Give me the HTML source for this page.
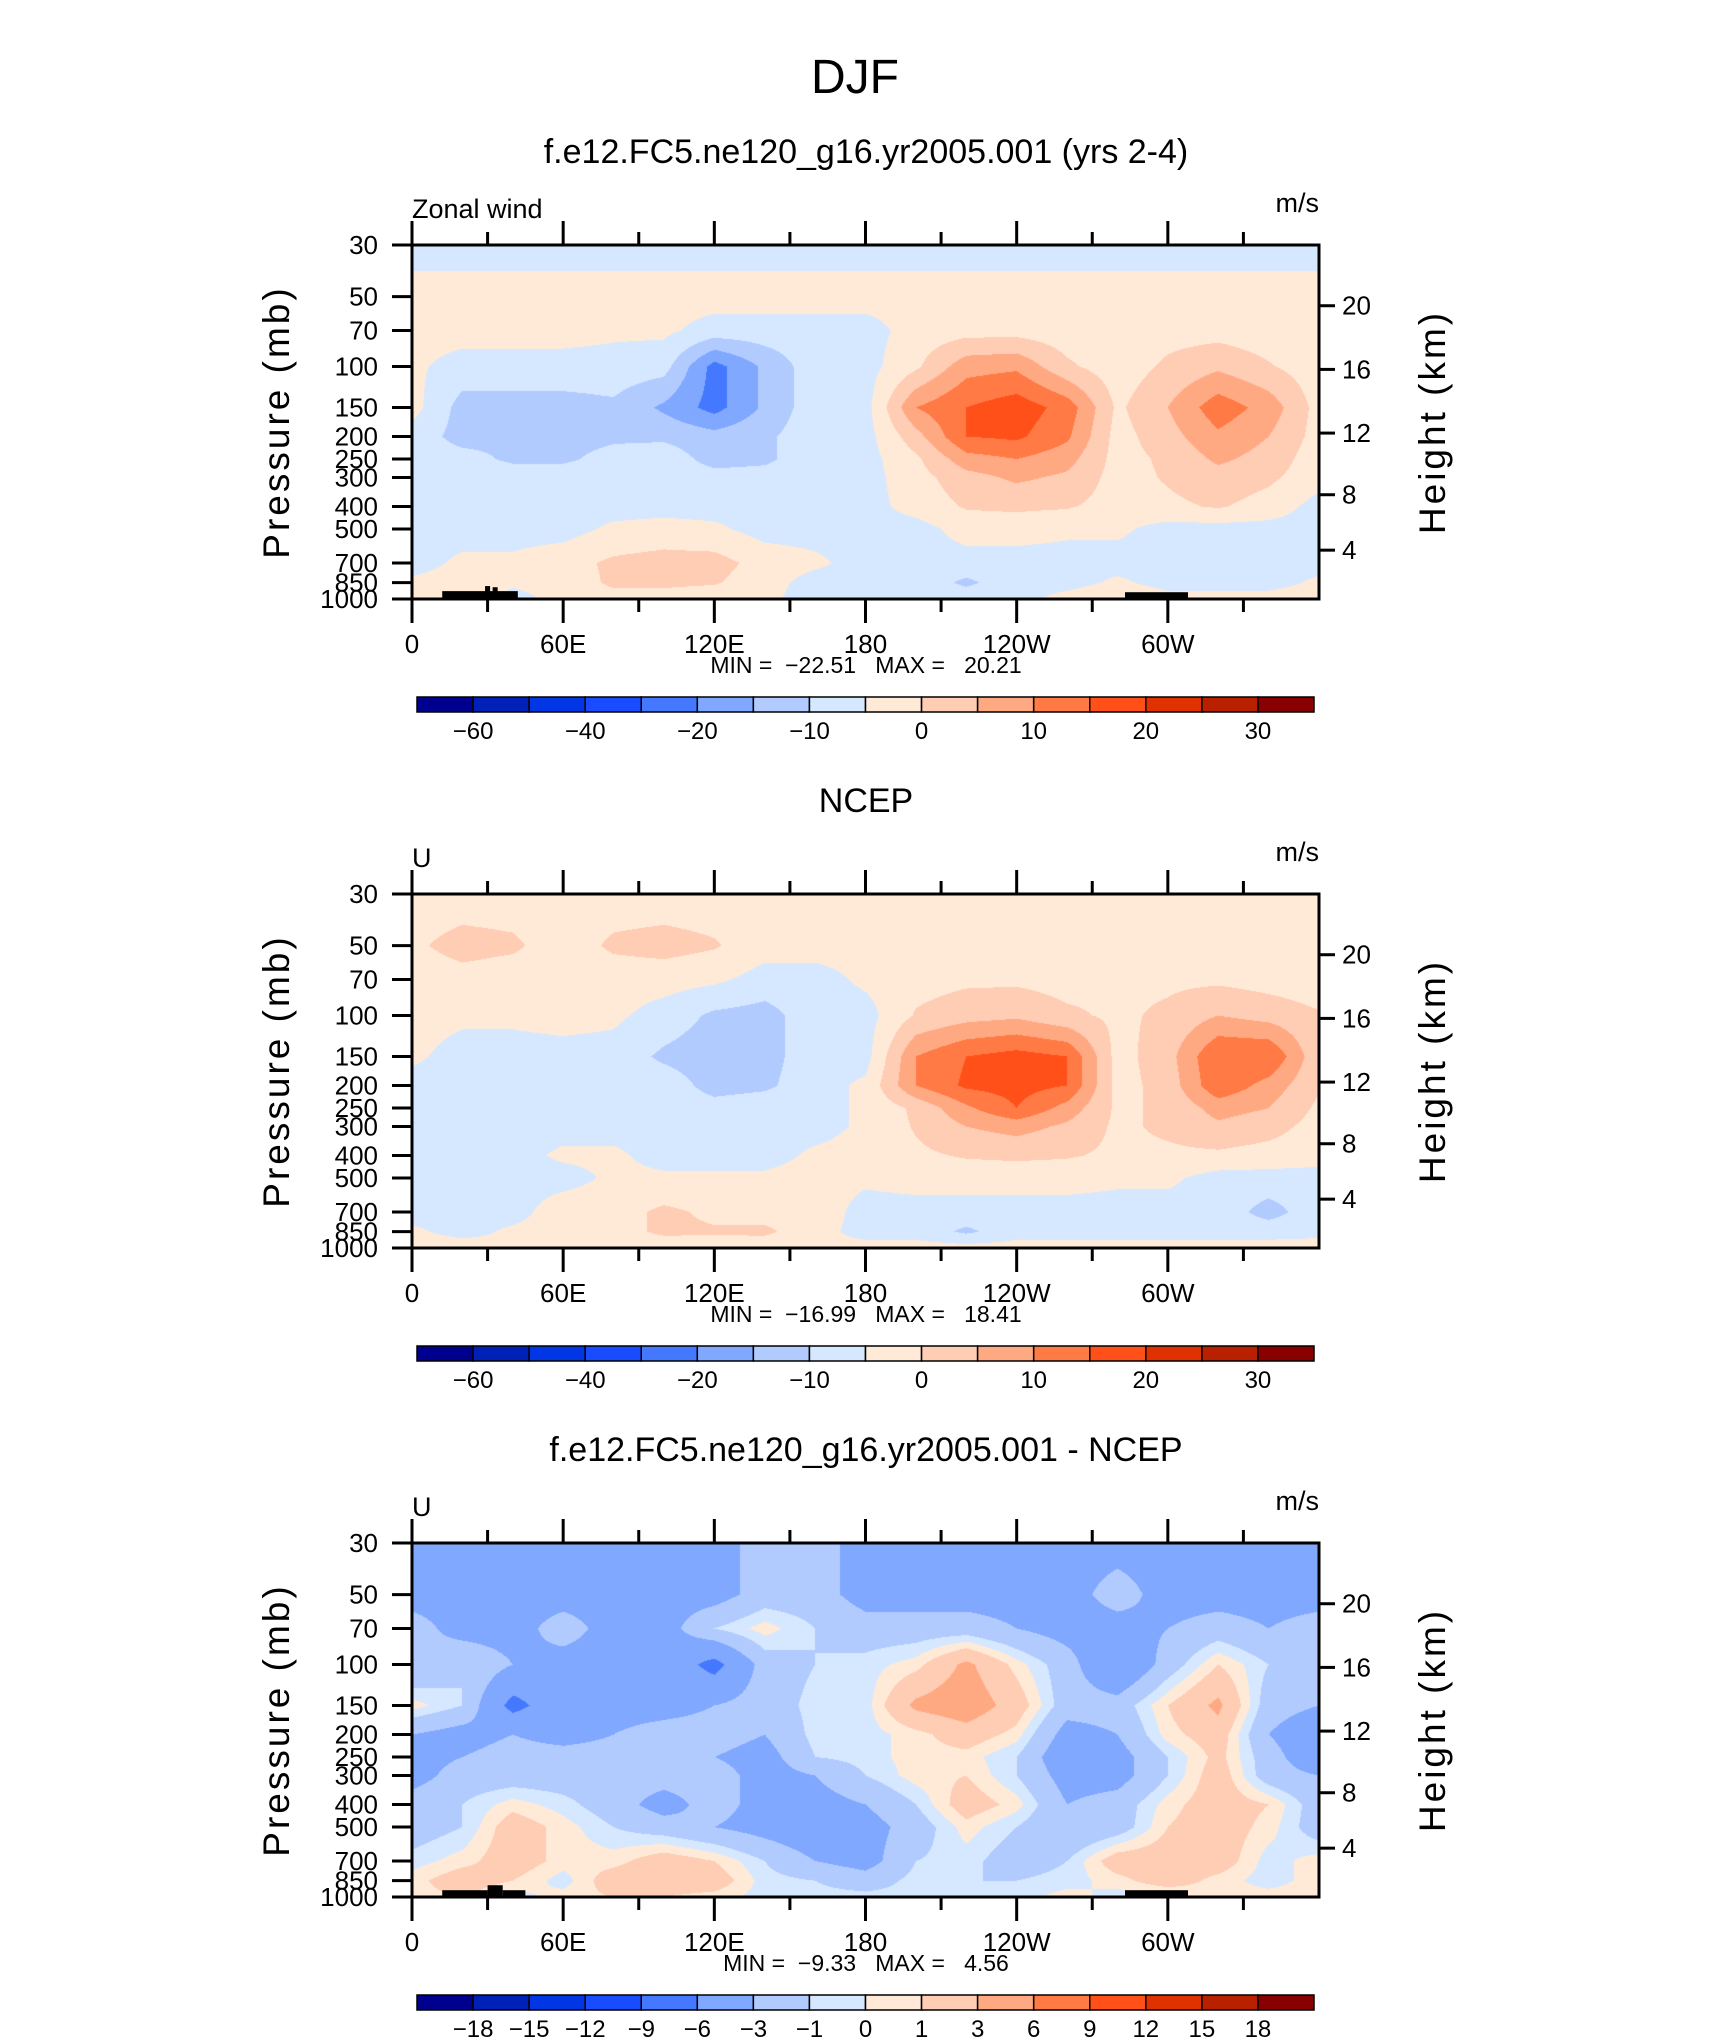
<!DOCTYPE html>
<html><head><meta charset="utf-8">
<style>
html,body{margin:0;padding:0;background:#fff;}
#root{position:relative;width:1710px;height:2038px;overflow:hidden;background:#fff;}
canvas{position:absolute;}
svg{position:absolute;left:0;top:0;}
text{font-family:"Liberation Sans",sans-serif;fill:#000;white-space:pre;}
</style></head>
<body>
<div id="root">
<canvas id="c0" width="907" height="354" style="left:412px;top:245px"></canvas>
<canvas id="c1" width="907" height="354" style="left:412px;top:894px"></canvas>
<canvas id="c2" width="907" height="354" style="left:412px;top:1543px"></canvas>
<svg id="ov" width="1710" height="2038"></svg>
</div>
<script>
const lons=[0,20,40,60,80,100,120,140,160,180,200,220,240,260,280,300,320,340,360];
const levs=[30,50,70,100,150,200,250,300,400,500,700,850,1000];
const modelU=[
[-7,-7,-7,-7,-7,-7,-7,-7,-7,-7,-7,-7,-7,-7,-7,-7,-7,-7,-7],
[-3,-3,-3,-3,-3,-3,-3,-3,-3,-3,-3,-3,-3,-3,-3,-3,-3,-3,-3],
[-3,-3,-3,-3,-4,-4,-7,-7,-7,-7,-3,-2,-2,-3,-4,-2,-2,-3,-4],
[-4,-7,-7,-7,-7,-8,-22,-14,-7,-7,-1,8,9,1,-3,1,4,0.5,-3],
[-3,-12,-12,-12,-11,-16,-22,-14,-7,-7,10,15,18,13,-1,5,13,8,-2],
[-7,-12,-11,-12,-11,-11,-13,-11,-7,-7,3,15,16,11,-2,3,9,5,-2],
[-7,-8,-11,-11,-8,-7,-12,-11,-7,-7,-1,8,10,7,-2,1,6,3,-3],
[-7,-7,-7,-7,-7,-7,-8,-8,-7,-7,-2,3,6,4,-2,0.5,3,1,-3],
[-7,-7,-7,-7,-7,-7,-7,-7,-7,-7,-3,0.5,1,0.5,-2,-1,0.5,-2,-7],
[-7,-7,-7,-7,-4,-3,-4,-7,-7,-7,-7,-3,-3,-4,-4,-7,-7,-7,-7],
[-7,-4,-4,-2,1,2,2,-2,-4,-7,-7,-7,-7,-7,-7,-7,-7,-7,-7],
[-4,-3,-4,-3,1,1,0.5,-3,-7,-7,-7,-11,-7,-7,-4,-7,-7,-7,-4],
[-2,0.5,-7,-3,-2,-2,-3,-4,-7,-7,-7,-7,-7,-3,-1,-3,-3,-3,-2]];
const ncepU=[
[-3,-3,-3,-3,-3,-3,-3,-3,-3,-3,-3,-3,-3,-3,-3,-3,-3,-3,-3],
[-1,2,1,-3,1,2,0.5,-3,-3,-3,-3,-3,-3,-3,-3,-3,-3,-3,-3],
[-3,-2,-3,-3,-3,-3,-4,-7,-7,-4,-2,-1,-1,-2,-1,-1,-1,-2,-3],
[-3,-4,-4,-3,-4,-7,-11,-12,-7,-7,0.5,3,4,1,-1,1,5,3,0.5],
[-4,-7,-7,-7,-7,-11,-13,-12,-7,-7,10,15,17,15,-2,3,15,15,1],
[-7,-7,-7,-7,-7,-7,-12,-11,-7,-4,10,16,17,15,-2,2,14,8,0.5],
[-7,-7,-7,-7,-7,-7,-8,-7,-7,-4,1,9,15,8,-1,1,7,5,-1],
[-7,-7,-7,-7,-7,-7,-7,-7,-7,-4,0.5,5,7,4,-1,1,4,2,-2],
[-7,-7,-7,-4,-4,-7,-7,-7,-4,-3,-1,0.5,1,0.5,-1,-1,-1,-2,-3],
[-7,-7,-7,-7,-4,-4,-4,-4,-3,-4,-3,-3,-3,-3,-4,-4,-7,-7,-7],
[-7,-7,-7,-2,-2,1,-1,-2,-2,-7,-7,-7,-7,-7,-7,-7,-7,-12,-7],
[-4,-7,-4,-3,-2,1,0.5,1,-3,-7,-7,-11,-7,-7,-7,-7,-7,-7,-7],
[-2,-2,-4,-3,-2,-3,-2,-3,-4,-3,-3,-3,-3,-3,-3,-3,-3,-3,-2]];
const diffU=[
[-4,-4,-4,-4,-4,-4,-4,-2,-2,-4,-4,-4,-4,-4,-4,-4,-4,-4,-4],
[-4,-4,-4,-4,-4,-4,-4,-2,-2,-4,-4,-4,-4,-4,-2,-4,-4,-4,-4],
[-2,-4,-4,-2,-4,-4,-1,0.5,-1,-2,-2,-2,-3,-4,-4,-3,-2,-3,-2],
[-3,-1,-3,-4,-4,-4,-7,-2,-1,-0.5,0.5,3.5,0.5,-2,-6,-2,1,-1,-2],
[0.5,-1,-7,-4,-4,-4,-3,-2,-0.5,-0.5,3.5,4.5,2,-2,-2,1,3.5,-2,-3],
[-3,-4,-3,-4,-3,-2,-2,-3,-0.5,-0.5,0.5,2,0.5,-4,-3,0.5,2,-3,-5],
[-4,-3,-2,-2,-2,-2,-3,-4,-1,-0.5,0.5,0.5,-1,-5,-4,-1,1.5,-2,-5],
[-4,-2,-2,-2,-2,-2,-2,-4,-3,-1,0.5,1,-1,-4,-4,-1,2,-2,-3],
[-2,-1,0.5,-0.5,-2,-4,-2,-4,-4,-3,-1,2,0.5,-3,-2,0.5,2,1,-2],
[-2,-1,2,0.5,-1,-2,-3,-4,-5,-4,-2,0.5,-1,-3,-2,1,2,0.5,-2],
[-0.5,0.5,2,0.5,0.5,2,1,-1,-3,-4,-1,-0.5,-2,-1,2,2,2,-0.5,0.5],
[0.5,2,1,-0.5,2,2,2,-0.5,-1,-2,-0.5,-1,-1,-0.5,0.5,2,0.5,-0.5,0.5],
[0.5,1,-0.5,0.5,1,1,0.5,-0.5,-0.5,-0.5,-0.5,-0.5,-0.5,0.5,-0.5,-0.5,0.5,0.5,0.5]];
const windLevels=[-60,-50,-40,-30,-20,-15,-10,-5,0,5,10,15,20,25,30];
const windLabels=["\u221260","","\u221240","","\u221220","","\u221210","","0","","10","","20","","30"];
const diffLevels=[-18,-15,-12,-9,-6,-3,-1,0,1,3,6,9,12,15,18];
const diffLabels=["\u221218","\u221215","\u221212","\u22129","\u22126","\u22123","\u22121","0","1","3","6","9","12","15","18"];
const palette=["#00008f","#0021b7","#0036e4","#1a4cff","#4479ff","#80a8ff","#b2cbff","#d5e8ff","#ffead8","#ffccb4","#ffa983","#ff7a45","#ff5019","#e03200","#b82000","#880000"];
const pTicks=[30,50,70,100,150,200,250,300,400,500,700,850,1000];
const hTicks=[4,8,12,16,20];
const xTickLons=[0,60,120,180,240,300];
const xTickLabels=["0","60E","120E","180","120W","60W"];
const topo1=[[12,42,925],[29,31,880],[32,34,890],[283,308,935]];
const topo3=[[12,30,935],[30,36,890],[36,45,935],[283,308,935]];
const panels=[
 {id:"c0",data:modelU,levels:windLevels,labels:windLabels,top:245,title:"f.e12.FC5.ne120_g16.yr2005.001 (yrs 2-4)",left:"Zonal wind",min:"\u221222.51",max:"20.21",topo:topo1,name:"model"},
 {id:"c1",data:ncepU,levels:windLevels,labels:windLabels,top:894,title:"NCEP",left:"U",min:"\u221216.99",max:"18.41",topo:[],name:"ncep"},
 {id:"c2",data:diffU,levels:diffLevels,labels:diffLabels,top:1543,title:"f.e12.FC5.ne120_g16.yr2005.001 - NCEP",left:"U",min:"\u22129.33",max:"4.56",topo:topo3,name:"difference"}];
const PL=412,PW=907,PH=354,CBL=417,CBW=897;
const LN=Math.log(1000/30);
function xOf(lon){return PL+lon/360*PW;}
function yOfP(p,top){return top+Math.log(p/30)/LN*PH;}
function pOfH(km){const h=km*1000;if(h<=11000)return 1013.25*Math.pow(1-2.25577e-5*h,5.25588);return 226.32*Math.exp(-(h-11000)/6341.6);}
function hex(c){return [parseInt(c.substr(1,2),16),parseInt(c.substr(3,2),16),parseInt(c.substr(5,2),16)];}
const rgb=palette.map(hex);
function valueAt(data,lon,p){
 let i=Math.min(Math.floor(lon/20),lons.length-2);let tx=(lon-lons[i])/(lons[i+1]-lons[i]);
 let k=0;while(k<levs.length-2&&p>levs[k+1])k++;
 let ty=Math.log(p/levs[k])/Math.log(levs[k+1]/levs[k]);ty=Math.max(0,Math.min(1,ty));
 const a=data[k][i],b=data[k][i+1],c=data[k+1][i],d=data[k+1][i+1];
 return (a*(1-tx)+b*tx)*(1-ty)+(c*(1-tx)+d*tx)*ty;}
function colorIdx(v,levels){let n=0;for(const l of levels)if(v>=l)n++;return n;}
panels.forEach(P=>{
 const cv=document.getElementById(P.id),ctx=cv.getContext("2d");
 const img=ctx.createImageData(PW,PH);
 for(let y=0;y<PH;y++){const p=30*Math.exp((y+0.5)/PH*LN);
  for(let x=0;x<PW;x++){const lon=(x+0.5)/PW*360;const v=valueAt(P.data,lon,p);
   const c=rgb[colorIdx(v,P.levels)];const o=(y*PW+x)*4;img.data[o]=c[0];img.data[o+1]=c[1];img.data[o+2]=c[2];img.data[o+3]=255;}}
 ctx.putImageData(img,0,0);
});
const NS="http://www.w3.org/2000/svg";const svg=document.getElementById("ov");
function el(tag,attrs,parent){const e=document.createElementNS(NS,tag);for(const k in attrs)e.setAttribute(k,attrs[k]);(parent||svg).appendChild(e);return e;}
function txt(s,x,y,size,anchor,parent,extra){const t=el("text",Object.assign({x:x,y:y,"font-size":size,"text-anchor":anchor||"middle"},extra||{}),parent);t.textContent=s;return t;}
const djf=txt("DJF",855,93,48,"middle");


panels.forEach(P=>{
 const g=el("g",{});
 
 
 const T=P.top,B=T+PH;
 const tt=txt(P.title,866,T-82,34,"middle",g);
 
 
 const lt=txt(P.left,PL,T-27,27,"start",g);
 
 
 const ut=txt("m/s",PL+PW,T-33,27,"end",g);
 
 
 P.topo.forEach(b=>{const r=el("rect",{x:xOf(b[0]),y:yOfP(b[2],T),width:xOf(b[1])-xOf(b[0]),height:B-yOfP(b[2],T),fill:"#000"},g);
  
  });
 const fr=el("rect",{x:PL,y:T,width:PW,height:PH,fill:"none",stroke:"#000","stroke-width":3},g);
 
 
 pTicks.forEach(p=>{const y=yOfP(p,T);el("line",{x1:PL-20,x2:PL,y1:y,y2:y,stroke:"#000","stroke-width":3},g);
  const l=txt(String(p),378,y+9,26,"end",g);
  
  });
 hTicks.forEach(h=>{const y=yOfP(pOfH(h),T);el("line",{x1:PL+PW,x2:PL+PW+16,y1:y,y2:y,stroke:"#000","stroke-width":3},g);
  const l=txt(String(h),1342,y+9,26,"start",g);
  
  });
 for(let lon=0;lon<360;lon+=30){const maj=lon%60===0;const x=xOf(lon);const len=maj?24:13;
  el("line",{x1:x,x2:x,y1:T,y2:T-len,stroke:"#000","stroke-width":3},g);
  el("line",{x1:x,x2:x,y1:B,y2:B+len,stroke:"#000","stroke-width":3},g);}
 xTickLons.forEach((lon,i)=>{const l=txt(xTickLabels[i],xOf(lon),B+54,26,"middle",g);
  
  });
 const mm=txt("MIN =  "+P.min+"   MAX =   "+P.max,866,B+74,23,"middle",g);
 
 
 const ya=txt("Pressure (mb)",0,0,37,"middle",g,{transform:"translate(289,"+(T+PH/2)+") rotate(-90)","letter-spacing":"3"});
 
 
 const ra=txt("Height (km)",0,0,37,"middle",g,{transform:"translate(1445,"+(T+PH/2)+") rotate(-90)","letter-spacing":"3"});
 
 
 const cb=el("g",{},g);
 
 
 const cy=B+98,bw=CBW/palette.length;
 palette.forEach((c,i)=>{const r=el("rect",{x:CBL+i*bw,y:cy,width:bw,height:15,fill:c,stroke:"#000","stroke-width":1.5},cb);
  
  });
 P.labels.forEach((s,i)=>{if(!s)return;const l=txt(s,CBL+(i+1)*bw,cy+42,24,"middle",cb);
  
  });
});
</script>
</body></html>
